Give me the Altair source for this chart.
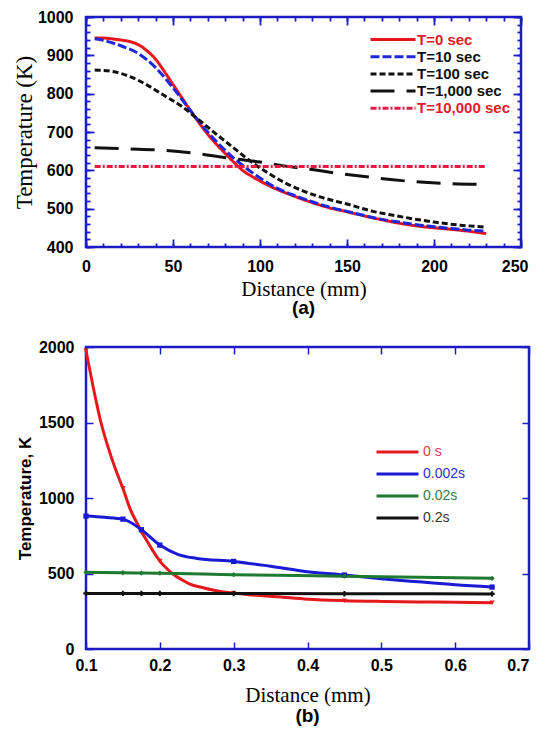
import altair as alt
import pandas as pd

# ---------------- Panel (a) data ----------------
A_SERIES = ["T=0 sec", "T=10 sec", "T=100 sec", "T=1,000 sec", "T=10,000 sec"]
A_LINE_COLORS = ["#e8141e", "#1f28d8", "#111111", "#111111", "#e61a40"]
A_LABEL_COLORS = ["#e0202a", "#111111", "#111111", "#111111", "#e0202a"]
A_DASHES = [[1, 0], [9, 3], [6, 3], [24, 12], [6, 2, 2, 2]]

A_T0_X = [5, 10, 15, 20, 25, 30, 35, 40, 45, 50, 55, 60, 65, 70, 75, 80, 85, 90, 95, 100,
          110, 120, 130, 140, 150, 160, 170, 180, 190, 200, 210, 220, 230]
A_T0_Y = [945, 945, 943, 940, 936, 928, 912, 890, 858, 824, 790, 756, 724, 694, 668, 644, 621, 600, 585, 572,
          550, 532, 516, 502, 492, 481, 471, 462, 455, 450, 446, 441, 435]
A_T10_X = [5, 10, 20, 30, 40, 50, 60, 70, 80, 90, 100, 110, 120, 130, 140, 150, 160, 170, 180, 190, 200, 210, 220, 230]
A_T10_Y = [943, 939, 925, 905, 868, 815, 756, 700, 652, 613, 580, 553, 534, 518, 504, 493, 482, 472, 465, 458, 453, 448, 444, 441]
A_T100_X = [5, 15, 25, 35, 45, 55, 65, 75, 85, 95, 105, 115, 125, 135, 150, 165, 175, 190, 200, 215, 230]
A_T100_Y = [862, 858, 845, 823, 795, 767, 731, 694, 658, 622, 592, 566, 546, 530, 512, 493, 484, 472, 465, 457, 452]
A_T1000_X = [5, 25, 45, 65, 85, 100, 115, 130, 145, 160, 175, 190, 205, 230]
A_T1000_Y = [659, 656, 652, 643, 630, 622, 611, 602, 592, 584, 576, 570, 566, 563]
A_T10000_X = [5, 230]
A_T10000_Y = [610, 610]

A_X_LABELS = [0, 50, 100, 150, 200, 250]
A_Y_LABELS = [400, 500, 600, 700, 800, 900, 1000]
A_X_MINOR = list(range(0, 251, 10))
A_Y_MINOR = list(range(400, 1001, 20))

# ---------------- Panel (b) data ----------------
B_SERIES = ["0 s", "0.002s", "0.02s", "0.2s"]
B_LINE_COLORS = ["#e5191c", "#1a1ad6", "#1d7a2e", "#111111"]
B_LABEL_COLORS = ["#e03a3a", "#3030d0", "#3c7a44", "#333333"]
B_SHAPES = ["triangle-down", "square", "diamond", "cross"]
B_WIDTHS = [3, 3, 3, 2]

B_MARK_X = [0.1, 0.15, 0.175, 0.2, 0.3, 0.45, 0.65]
B_0_X = [0.1, 0.11, 0.12, 0.13, 0.14, 0.15, 0.16, 0.17, 0.175, 0.18, 0.19, 0.2, 0.21, 0.22, 0.23,
         0.24, 0.26, 0.28, 0.3, 0.32, 0.36, 0.4, 0.45, 0.5, 0.55, 0.6, 0.65]
B_0_Y = [1975, 1728, 1505, 1335, 1190, 1064, 925, 826, 777, 737, 655, 582, 530, 488, 458,
         431, 404, 382, 370, 360, 346, 330, 320, 315, 312, 309, 306]
B_002_X = [0.1, 0.125, 0.15, 0.175, 0.2, 0.225, 0.25, 0.3, 0.35, 0.4, 0.45, 0.5, 0.55, 0.6, 0.65]
B_002_Y = [880, 872, 860, 790, 688, 625, 600, 580, 548, 512, 490, 466, 445, 425, 410]
B_02_X = [0.1, 0.15, 0.175, 0.2, 0.3, 0.45, 0.65]
B_02_Y = [508, 505, 503, 502, 492, 482, 468]
B_2_X = [0.1, 0.15, 0.175, 0.2, 0.3, 0.45, 0.65]
B_2_Y = [368, 368, 368, 368, 367, 366, 365]

B_X_LABELS = [0.1, 0.2, 0.3, 0.4, 0.5, 0.6, 0.7]
B_Y_LABELS = [0, 500, 1000, 1500, 2000]

FRAME = "#1c1cc6"
SANS = "Liberation Sans"
SERIF = "Liberation Serif"

AW, AH = 435, 230
BW, BH = 443, 302


def long_df(names, xs, ys):
    rows = []
    for n, xx, yy in zip(names, xs, ys):
        for i, (a, b) in enumerate(zip(xx, yy)):
            rows.append({"series": n, "x": a, "y": b, "i": i})
    return pd.DataFrame(rows)


def color_expr(names, colors):
    expr = f"'{colors[-1]}'"
    for n, c in reversed(list(zip(names[:-1], colors[:-1]))):
        expr = f"datum.label === '{n}' ? '{c}' : ({expr})"
    return expr


def tick_axis(orient, values, length, width):
    # inward ticks: axis shifted inside the plot by its own tick length
    return alt.Axis(orient=orient, values=values, labels=False, ticks=True, tickSize=length,
                    offset=-length, tickColor=FRAME, tickWidth=width, domain=False,
                    grid=False, title=None, minExtent=0, labelPadding=0)


def tick_layers(df, xvals_major, yvals_major, xvals_minor, yvals_minor, major, minor, width):
    out = []
    specs = [
        ("bottom", "left", xvals_major, yvals_major, major),
        ("top", "right", xvals_major, yvals_major, major),
    ]
    if xvals_minor is not None:
        specs += [
            ("bottom", "left", xvals_minor, yvals_minor, minor),
            ("top", "right", xvals_minor, yvals_minor, minor),
        ]
    for xo, yo, xv, yv, ln in specs:
        out.append(alt.Chart(df).mark_line(opacity=0).encode(
            x=alt.X("x:Q", axis=tick_axis(xo, xv, ln, width)),
            y=alt.Y("y:Q", axis=tick_axis(yo, yv, ln, width)),
            detail="series:N",
        ))
    return out


# ---------------- Panel (a) ----------------
df_a = long_df(A_SERIES,
               [A_T0_X, A_T10_X, A_T100_X, A_T1000_X, A_T10000_X],
               [A_T0_Y, A_T10_Y, A_T100_Y, A_T1000_Y, A_T10000_Y])

leg_a = alt.Legend(
    title=" ", titleFontSize=1, titlePadding=4, orient="top-right", offset=11, padding=0,
    symbolType="stroke", symbolSize=2025, symbolStrokeWidth=3, clipHeight=13,
    rowPadding=1.2, labelOffset=0, labelFont=SANS, labelFontSize=15,
    labelFontWeight="bold", labelColor=alt.ExprRef(color_expr(A_SERIES, A_LABEL_COLORS)),
)

axis_xa = alt.Axis(orient="bottom", values=A_X_LABELS, title="Distance (mm)", titleFont=SERIF,
                   titleFontSize=21, titleFontWeight="normal", labelPadding=11,
                   titlePadding=4, labelFlush=False, ticks=False,
                   labelAlign={"condition": {"test": "datum.value >= 249", "value": "right"},
                               "value": "center"},
                   labelOffset={"condition": {"test": "datum.value >= 249", "value": 7},
                                "value": 0})
axis_ya = alt.Axis(orient="left", values=A_Y_LABELS, format="d", title="Temperature (K)",
                   titleFont=SERIF, titleFontSize=23, titleFontWeight="normal", labelPadding=13,
                   titlePadding=0.5, ticks=False)

lines_a = alt.Chart(df_a).mark_line(strokeWidth=3, interpolate="monotone").encode(
    x=alt.X("x:Q", scale=alt.Scale(domain=[0, 250], nice=False, zero=False), axis=axis_xa),
    y=alt.Y("y:Q", scale=alt.Scale(domain=[400, 1000], nice=False, zero=False), axis=axis_ya),
    color=alt.Color("series:N", scale=alt.Scale(domain=A_SERIES, range=A_LINE_COLORS), legend=leg_a),
    strokeDash=alt.StrokeDash("series:N", scale=alt.Scale(domain=A_SERIES, range=A_DASHES), legend=leg_a),
    order=alt.Order("i:Q"),
)

ticks_a = tick_layers(df_a, A_X_LABELS, A_Y_LABELS, A_X_MINOR, A_Y_MINOR, 8, 4, 1.8)

panel_a = alt.layer(lines_a, *ticks_a).resolve_axis(x="independent", y="independent").properties(
    width=AW, height=AH,
    title=alt.TitleParams(text="(a)", orient="bottom", anchor="middle", font=SANS,
                          fontSize=19, fontWeight="bold", color="black", offset=0),
)

# ---------------- Panel (b) ----------------
df_b = long_df(B_SERIES, [B_0_X, B_002_X, B_02_X, B_2_X], [B_0_Y, B_002_Y, B_02_Y, B_2_Y])

leg_b = alt.Legend(
    title=" ", titleFontSize=1, titlePadding=34, orient="top-right", offset=63, padding=0,
    symbolType="stroke", symbolSize=1764, symbolStrokeWidth=3, clipHeight=14,
    rowPadding=8, labelOffset=3, labelFont=SANS, labelFontSize=14,
    labelFontWeight="normal", labelColor=alt.ExprRef(color_expr(B_SERIES, B_LABEL_COLORS)),
)

axis_xb = alt.Axis(orient="bottom", values=B_X_LABELS, format=".1f", title="Distance (mm)",
                   titleFont=SERIF, titleFontSize=21, titleFontWeight="normal", labelPadding=8,
                   titlePadding=11, labelFlush=False, ticks=False,
                   labelAlign={"condition": {"test": "datum.value >= 0.69", "value": "right"},
                               "value": "center"})
axis_yb = alt.Axis(orient="left", values=B_Y_LABELS, format="d", title="Temperature, K",
                   titleFont=SANS, titleFontSize=17, titleFontWeight="bold", labelPadding=12,
                   titlePadding=4, ticks=False)
xb = alt.X("x:Q", scale=alt.Scale(domain=[0.1, 0.7], nice=False, zero=False), axis=axis_xb)
yb = alt.Y("y:Q", scale=alt.Scale(domain=[0, 2000], nice=False, zero=False), axis=axis_yb)

lines_b = alt.Chart(df_b).mark_line(interpolate="monotone").encode(
    x=xb, y=yb,
    color=alt.Color("series:N", scale=alt.Scale(domain=B_SERIES, range=B_LINE_COLORS), legend=leg_b),
    strokeWidth=alt.StrokeWidth("series:N", scale=alt.Scale(domain=B_SERIES, range=B_WIDTHS), legend=None),
    order=alt.Order("i:Q"),
)

point_layers = []
for name, col, shp in zip(B_SERIES, B_LINE_COLORS, B_SHAPES):
    sub = df_b[(df_b["series"] == name) & (df_b["x"].isin(B_MARK_X))]
    point_layers.append(
        alt.Chart(sub).mark_point(filled=True, size=28, opacity=1, color=col, shape=shp).encode(
            x=alt.X("x:Q", axis=None), y=alt.Y("y:Q", axis=None))
    )

ticks_b = tick_layers(df_b, B_X_LABELS, B_Y_LABELS, None, None, 7, 0, 1.5)

panel_b = alt.layer(lines_b, *point_layers, *ticks_b).resolve_axis(
    x="independent", y="independent").properties(
    width=BW, height=BH,
    title=alt.TitleParams(text="(b)", orient="bottom", anchor="middle", font=SANS,
                          fontSize=19, fontWeight="bold", color="black", offset=2),
)

chart = alt.vconcat(panel_a, panel_b, spacing=100, bounds="flush").resolve_scale(
    x="independent", y="independent", color="independent", strokeDash="independent",
    strokeWidth="independent",
).resolve_legend(color="independent", strokeDash="independent").configure_view(
    stroke=FRAME, strokeWidth=2.5
).configure_axis(
    domain=False, grid=False, labelFont=SANS, labelFontSize=16,
    labelFontWeight="bold", labelColor="black", titleColor="black",
).properties(
    padding={"left": 4, "top": -1, "right": 0, "bottom": 0}, background="white",
)

chart.save("out.html", embed_options={"renderer": "svg", "actions": False})
